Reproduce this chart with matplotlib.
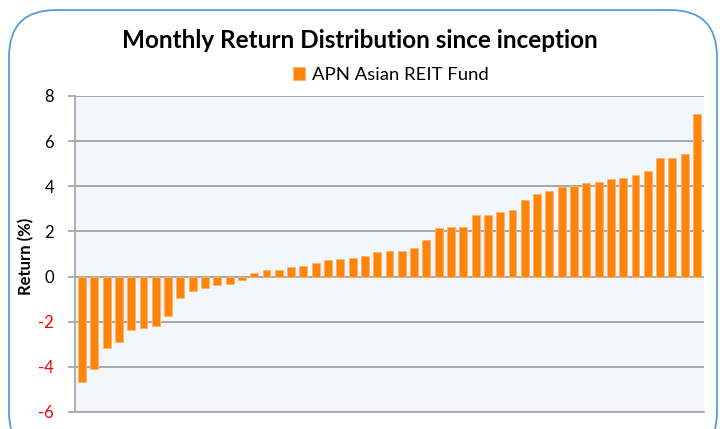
import matplotlib
matplotlib.use("Agg")
import matplotlib.pyplot as plt
from matplotlib.patches import FancyBboxPatch

returns = [-4.68, -4.09, -3.15, -2.91, -2.38, -2.28, -2.21, -1.75, -0.97, -0.62,
           -0.51, -0.38, -0.34, -0.16,
           0.18, 0.31, 0.31, 0.43, 0.49, 0.61, 0.73, 0.79, 0.84, 0.90,
           1.10, 1.14, 1.14, 1.26, 1.61, 2.15, 2.19, 2.19,
           2.73, 2.73, 2.85, 2.96, 3.39, 3.67, 3.79, 3.95, 4.03, 4.14,
           4.20, 4.32, 4.38, 4.50, 4.69, 5.27, 5.27, 5.44, 7.20]
yticks = [-6, -4, -2, 0, 2, 4, 6, 8]
series_name = "APN Asian REIT Fund"
title = "Monthly Return Distribution since inception"
ylabel = "Return (%)"

W, H = 722, 429
fig = plt.figure(figsize=(W/100, H/100), dpi=100)
fig.patch.set_facecolor("white")

# rounded border
border = FancyBboxPatch((9/W, -30/H), 708/W, (H - 10 + 30)/H,
                        boxstyle="round,pad=0,rounding_size=0.065",
                        transform=fig.transFigure, facecolor="none",
                        edgecolor="#5B9BD5", linewidth=1.3, mutation_aspect=W/H)
fig.patches.append(border)

ax = fig.add_axes([75/W, (H-412)/H, (704-75)/W, (412-96)/H])
ax.set_facecolor("#F3F6FB")
x = list(range(len(returns)))
ax.bar(x, returns, width=0.64, color="#FF850A", edgecolor="#FFB36B",
       linewidth=0.6, zorder=3, label=series_name)
ax.set_xlim(-0.57, len(returns) - 1 + 0.57)
ax.set_ylim(-6, 8)
ax.set_yticks(yticks)
ax.set_yticklabels([str(t) for t in yticks], fontsize=12, family="Lato")
for lab, t in zip(ax.get_yticklabels(), yticks):
    lab.set_color("red" if t < 0 else "black")
ax.set_xticks([])
ax.grid(axis="y", color="#A0A0A0", linewidth=1.3, zorder=1)
ax.tick_params(axis="y", length=5, width=1.2, color="#A0A0A0", pad=10)
for s in ["top", "right"]:
    ax.spines[s].set_visible(False)
ax.spines["left"].set_color("#A8A8A8")
ax.spines["left"].set_linewidth(1.3)
ax.spines["bottom"].set_color("#A8A8A8")
ax.spines["bottom"].set_linewidth(1.3)
ax.set_ylabel(ylabel, fontsize=12, fontweight="bold", family="Lato")
ax.yaxis.set_label_coords((26 - 75) / 629, (412 - 256) / 316)
ax.yaxis.label.set_va("center")

fig.text(360/W, 1 - 40/H, title, ha="center", va="center", fontsize=17.5,
         fontweight="bold", family="Lato")
leg = fig.legend(loc="center", bbox_to_anchor=(391/W, 1 - 75/H), frameon=False,
                 prop={"family": "Lato", "size": 13.3}, handlelength=0.65,
                 handleheight=0.65, handletextpad=0.35)

fig.savefig("out.png", dpi=100)
